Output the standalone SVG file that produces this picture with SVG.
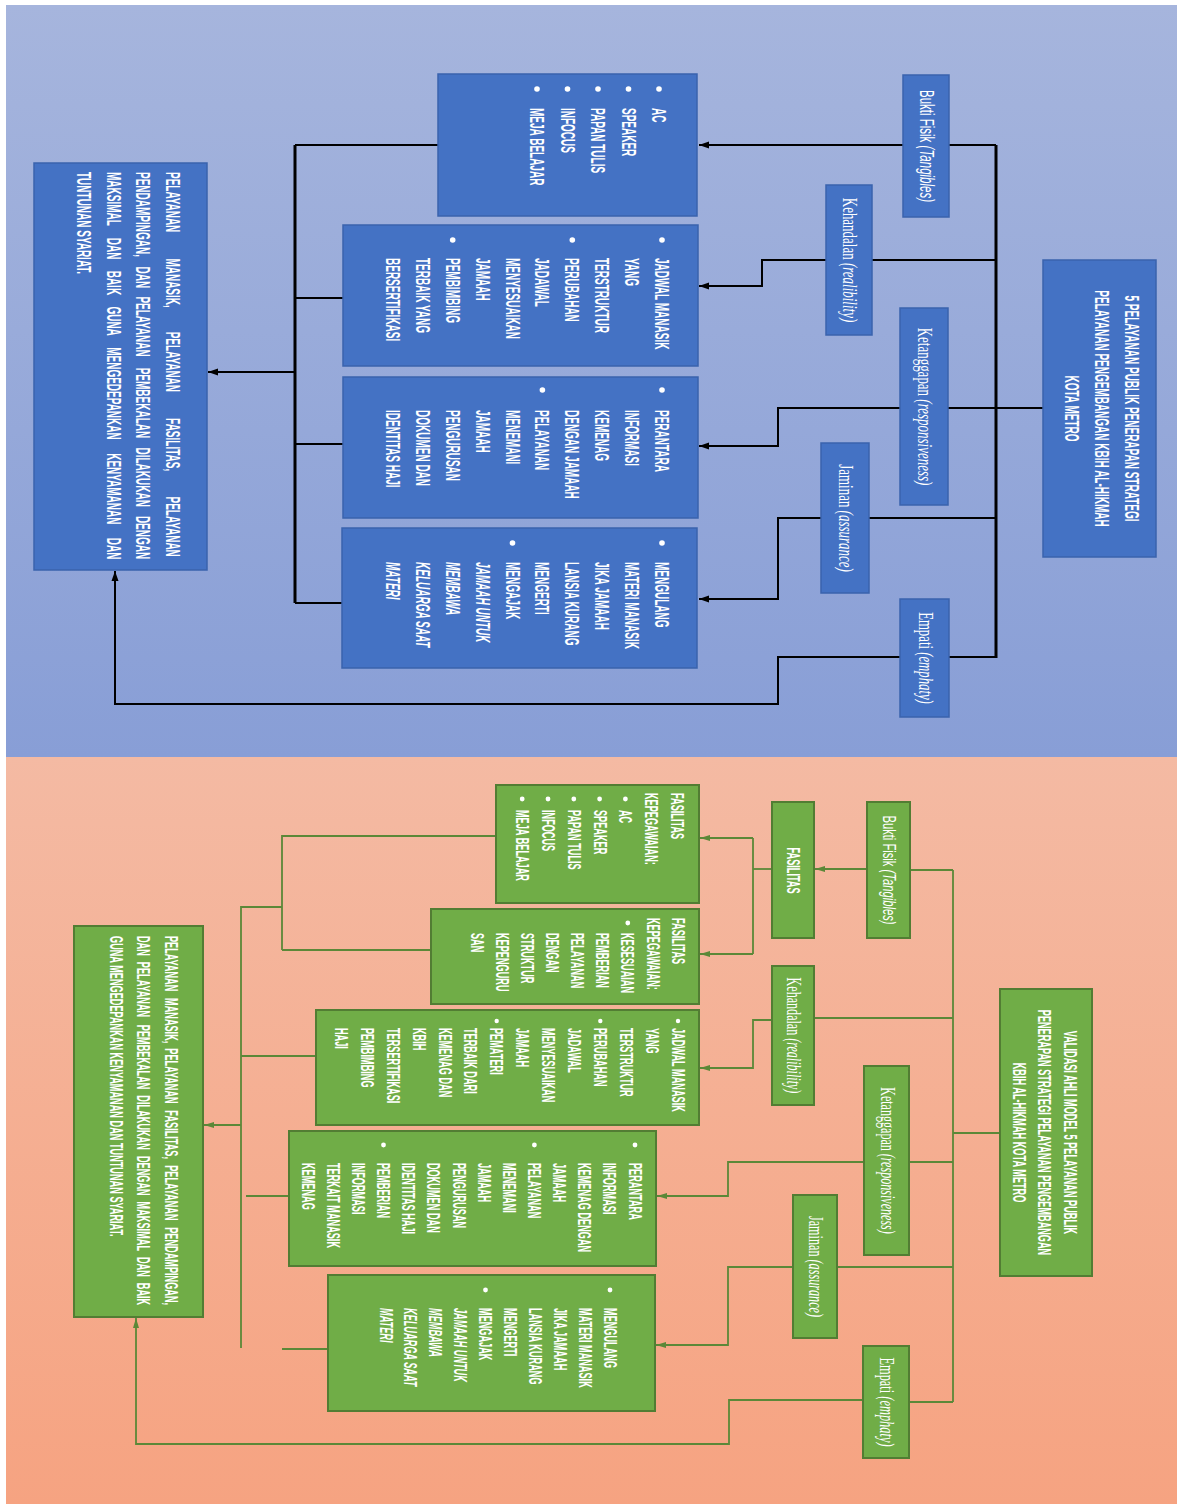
<svg xmlns="http://www.w3.org/2000/svg" width="1179" height="1504" viewBox="0 0 1179 1504">
<defs>
<linearGradient id="gBlue" x1="0" y1="0" x2="0" y2="1"><stop offset="0" stop-color="#a6b5dd"/><stop offset="1" stop-color="#889ed6"/></linearGradient>
<linearGradient id="gSal" x1="0" y1="0" x2="0" y2="1"><stop offset="0" stop-color="#f4baa3"/><stop offset="1" stop-color="#f6a381"/></linearGradient>
<marker id="ak" markerWidth="11" markerHeight="8" refX="10" refY="4" orient="auto" markerUnits="userSpaceOnUse"><path d="M0,0.5 L10,4 L0,7.5 z" fill="#000"/></marker>
<marker id="ag" markerWidth="11" markerHeight="8" refX="10" refY="4" orient="auto" markerUnits="userSpaceOnUse"><path d="M0,1 L10,4 L0,7 z" fill="#5b8838"/></marker>
<style>
.bb{fill:#4472c4;stroke:#3a63ad;stroke-width:1.5}
.gb{fill:#70ad47;stroke:#527d33;stroke-width:2}
.bt{font-family:"Liberation Sans",Arial,sans-serif;font-weight:bold;font-size:20px;fill:#fff}
.gt{font-family:"Liberation Sans",Arial,sans-serif;font-weight:bold;font-size:18px;fill:#fff}
.ss{font-family:"Liberation Sans",Arial,sans-serif;fill:#fff;text-anchor:middle}
.sf{font-family:"Liberation Serif","Times New Roman",serif;fill:#fff;text-anchor:middle}
.mid{text-anchor:middle}
.it{font-style:italic}
.dot{fill:#fff}
.kl{stroke:#000;stroke-width:2;fill:none}
.kt{stroke:#000;stroke-width:3;fill:none}
.gl{stroke:#5b8838;stroke-width:1.8;fill:none}
</style>
</defs>
<rect x="0" y="0" width="1179" height="1504" fill="#fff"/>
<rect x="6" y="5" width="1171" height="752" fill="url(#gBlue)"/>
<rect x="6" y="757" width="1171" height="747" fill="url(#gSal)"/>

<g id="connectors">
 <g id="conn-top">
  <path class="kt" d="M996,145 V658"/>
  <path class="kl" d="M1043,408 H948"/>
  <path class="kl" d="M996,145 H949"/>
  <path class="kl" d="M903,145 H699" marker-end="url(#ak)"/>
  <path class="kl" d="M996,260 H872"/>
  <path class="kl" d="M826,260 H762 V286 H699" marker-end="url(#ak)"/>
  <path class="kl" d="M900,408 H778 V446 H699" marker-end="url(#ak)"/>
  <path class="kl" d="M996,518 H869"/>
  <path class="kl" d="M821,518 H778 V599 H699" marker-end="url(#ak)"/>
  <path class="kl" d="M996,657 H949"/>
  <path class="kl" d="M900,657 H778 V704 H115 V571" marker-end="url(#ak)"/>
  <path class="kt" d="M295,145 V603"/>
  <path class="kl" d="M438,145 H295"/>
  <path class="kl" d="M343,298 H295"/>
  <path class="kl" d="M343,444 H295"/>
  <path class="kl" d="M343,603 H295"/>
  <path class="kl" d="M295,372 H208" marker-end="url(#ak)"/>
 </g>
 <g id="conn-bottom">
  <path class="gl" d="M953,870 V1402"/>
  <path class="gl" d="M1000,1133 H953"/>
  <path class="gl" d="M953,870 H910"/>
  <path class="gl" d="M867,869 H815" marker-end="url(#ag)"/>
  <path class="gl" d="M772,869 H753"/>
  <path class="gl" d="M753,838 V954"/>
  <path class="gl" d="M753,838 H700" marker-end="url(#ag)"/>
  <path class="gl" d="M753,954 H700" marker-end="url(#ag)"/>
  <path class="gl" d="M953,1018 H814"/>
  <path class="gl" d="M772,1020 H753 V1068 H700" marker-end="url(#ag)"/>
  <path class="gl" d="M953,1162 H909"/>
  <path class="gl" d="M864,1162 H728 V1196 H657" marker-end="url(#ag)"/>
  <path class="gl" d="M953,1267 H837"/>
  <path class="gl" d="M793,1267 H728 V1345 H656" marker-end="url(#ag)"/>
  <path class="gl" d="M953,1402 H910"/>
  <path class="gl" d="M863,1400 H729 V1444 H136 V1318" marker-end="url(#ag)"/>
  <path class="gl" d="M496,836 H282 V950 M431,950 H282"/>
  <path class="gl" d="M282,907 H241 V1348"/>
  <path class="gl" d="M316,1056 H241"/>
  <path class="gl" d="M289,1196 H246"/>
  <path class="gl" d="M328,1349 H282"/>
  <path class="gl" d="M241,1125 H204" marker-end="url(#ag)"/>
 </g>
</g>

<!-- TOP PANEL NODES -->
<g id="top-source">
 <rect class="bb" x="1043" y="260" width="113" height="297"/>
 <g class="bt mid" transform="translate(1125,408.5) rotate(90) scale(0.5,1)">
  <text y="0">5 PELAYANAN PUBLIK PENERAPAN STRATEGI</text>
  <text y="30">PELAYANAN PENGEMBANGAN KBIH AL-HIKMAH</text>
  <text y="60">KOTA METRO</text>
 </g>
</g>
<g id="top-bukti">
 <rect class="bb" x="903" y="75" width="46" height="142"/>
 <text class="ss" font-size="20" transform="translate(919.5,146) rotate(90) scale(0.575,1)">Bukti Fisik <tspan class="it">(Tangibles)</tspan></text>
</g>
<g id="top-kehandalan">
 <rect class="bb" x="826" y="185" width="46" height="150"/>
 <text class="sf" font-size="22" transform="translate(843,260) rotate(90) scale(0.59,1)">Kehandalan <tspan class="it">(realibility)</tspan></text>
</g>
<g id="top-ketanggapan">
 <rect class="bb" x="900" y="308" width="48" height="197"/>
 <text class="sf" font-size="22" transform="translate(918,406.5) rotate(90) scale(0.59,1)">Ketanggapan <tspan class="it">(responsiveness)</tspan></text>
</g>
<g id="top-jaminan">
 <rect class="bb" x="821" y="443" width="48" height="150"/>
 <text class="sf" font-size="22" transform="translate(839,518) rotate(90) scale(0.59,1)">Jaminan <tspan class="it">(assurance)</tspan></text>
</g>
<g id="top-empati">
 <rect class="bb" x="900" y="599" width="49" height="118"/>
 <text class="sf" font-size="22" transform="translate(918.5,658) rotate(90) scale(0.58,1)">Empati <tspan class="it">(emphaty)</tspan></text>
</g>

<g id="top-box-a">
 <rect class="bb" x="438" y="74" width="259" height="142"/>
 <circle class="dot" cx="659" cy="89" r="2.8"/><circle class="dot" cx="628.5" cy="89" r="2.8"/><circle class="dot" cx="598" cy="89" r="2.8"/><circle class="dot" cx="567.5" cy="89" r="2.8"/><circle class="dot" cx="537" cy="89" r="2.8"/>
 <g class="bt" transform="translate(652,108) rotate(90) scale(0.5,1)">
  <text y="0">AC</text><text y="30.5">SPEAKER</text><text y="61">PAPAN TULIS</text><text y="91.5">INFOCUS</text><text y="122">MEJA BELAJAR</text>
 </g>
</g>
<g id="top-box-b">
 <rect class="bb" x="343" y="225" width="355" height="141"/>
 <circle class="dot" cx="662" cy="240" r="2.8"/><circle class="dot" cx="572.3" cy="240" r="2.8"/><circle class="dot" cx="452.7" cy="240" r="2.8"/>
 <g class="bt" transform="translate(655,258) rotate(90) scale(0.5,1)">
  <text y="0">JADWAL MANASIK</text><text y="29.9">YANG</text><text y="59.8">TERSTRUKTUR</text><text y="89.7">PERUBAHAN</text><text y="119.6">JADAWAL</text><text y="149.5">MENYESUAIKAN</text><text y="179.4">JAMAAH</text><text y="209.3">PEMBIMBING</text><text y="239.2">TERBAIK YANG</text><text y="269.1">BERSERTIFIKASI</text>
 </g>
</g>
<g id="top-box-c">
 <rect class="bb" x="343" y="377" width="355" height="141"/>
 <circle class="dot" cx="662" cy="390" r="2.8"/><circle class="dot" cx="542.4" cy="390" r="2.8"/>
 <g class="bt" transform="translate(655,410) rotate(90) scale(0.5,1)">
  <text y="0">PERANTARA</text><text y="29.9">INFORMASI</text><text y="59.8">KEMENAG</text><text y="89.7">DENGAN JAMAAH</text><text y="119.6">PELAYANAN</text><text y="149.5">MENEMANI</text><text y="179.4">JAMAAH</text><text y="209.3">PENGURUSAN</text><text y="239.2">DOKUMEN DAN</text><text y="269.1">IDENTITAS HAJI</text>
 </g>
</g>
<g id="top-box-d">
 <rect class="bb" x="342" y="528" width="355" height="140"/>
 <circle class="dot" cx="662" cy="543" r="2.8"/><circle class="dot" cx="512.5" cy="543" r="2.8"/>
 <g class="bt" transform="translate(655,562) rotate(90) scale(0.5,1)">
  <text y="0">MENGULANG</text><text y="29.9">MATERI MANASIK</text><text y="59.8">JIKA JAMAAH</text><text y="89.7">LANSIA KURANG</text><text y="119.6">MENGERTI</text><text y="149.5">MENGAJAK</text><text class="it" y="179.4">JAMAAH UNTUK</text><text class="it" y="209.3">MEMBAWA</text><text class="it" y="239.2">KELUARGA SAAT</text><text class="it" y="269.1">MATERI</text>
 </g>
</g>
<g id="top-result">
 <rect class="bb" x="34" y="163" width="173" height="407"/>
 <g class="bt" transform="translate(166,172) rotate(90) scale(0.5,1)">
  <text x="0" y="0">PELAYANAN</text><text x="172.8" y="0">MANASIK,</text><text x="319.4" y="0">PELAYANAN</text><text x="492.2" y="0">FASILITAS,</text><text x="649" y="0">PELAYANAN</text>
  <text x="0" y="29.7">PENDAMPINGAN,</text><text x="189" y="29.7">DAN</text><text x="248.8" y="29.7">PELAYANAN</text><text x="391.4" y="29.7">PEMBEKALAN</text><text x="551" y="29.7">DILAKUKAN</text><text x="687.8" y="29.7">DENGAN</text>
  <text x="0" y="59.4">MAKSIMAL</text><text x="131.6" y="59.4">DAN</text><text x="197.4" y="59.4">BAIK</text><text x="268.8" y="59.4">GUNA</text><text x="350.4" y="59.4">MENGEDEPANKAN</text><text x="562.4" y="59.4">KENYAMANAN</text><text x="731.4" y="59.4">DAN</text>
  <text x="0" y="89">TUNTUNAN SYARIAT.</text>
 </g>
</g>

<!-- BOTTOM PANEL NODES -->
<g id="bot-source">
 <rect class="gb" x="1000" y="989" width="92" height="287"/>
 <g class="gt mid" transform="translate(1063.5,1132.5) rotate(90) scale(0.51,1)">
  <text y="0">VALIDASI AHLI MODEL 5 PELAYANAN PUBLIK</text>
  <text y="25.4">PENERAPAN STRATEGI PELAYANAN PENGEMBANGAN</text>
  <text y="50.8">KBIH AL-HIKMAH KOTA METRO</text>
 </g>
</g>
<g id="bot-bukti">
 <rect class="gb" x="867" y="802" width="43" height="136"/>
 <text class="ss" font-size="19" transform="translate(882.5,870) rotate(90) scale(0.59,1)">Bukti Fisik <tspan class="it">(Tangibles)</tspan></text>
</g>
<g id="bot-fasilitas">
 <rect class="gb" x="772" y="802" width="42" height="136"/>
 <text class="gt mid" transform="translate(787,870.5) rotate(90) scale(0.51,1)">FASILITAS</text>
</g>
<g id="bot-kehandalan">
 <rect class="gb" x="772" y="966" width="42" height="139"/>
 <text class="sf" font-size="21" transform="translate(787,1035.5) rotate(90) scale(0.575,1)">Kehandalan <tspan class="it">(realibility)</tspan></text>
</g>
<g id="bot-ketanggapan">
 <rect class="gb" x="864" y="1066" width="45" height="189"/>
 <text class="sf" font-size="21" transform="translate(880.5,1160.5) rotate(90) scale(0.575,1)">Ketanggapan <tspan class="it">(responsiveness)</tspan></text>
</g>
<g id="bot-jaminan">
 <rect class="gb" x="793" y="1195" width="44" height="143"/>
 <text class="sf" font-size="21" transform="translate(809,1266.5) rotate(90) scale(0.58,1)">Jaminan <tspan class="it">(assurance)</tspan></text>
</g>
<g id="bot-empati">
 <rect class="gb" x="863" y="1346" width="46" height="112"/>
 <text class="sf" font-size="21" transform="translate(880,1402) rotate(90) scale(0.59,1)">Empati <tspan class="it">(emphaty)</tspan></text>
</g>

<g id="bot-box-1">
 <rect class="gb" x="496" y="785" width="203" height="118"/>
 <circle class="dot" cx="625.4" cy="799" r="2.4"/><circle class="dot" cx="599.6" cy="799" r="2.4"/><circle class="dot" cx="573.8" cy="799" r="2.4"/><circle class="dot" cx="548" cy="799" r="2.4"/><circle class="dot" cx="522.2" cy="799" r="2.4"/>
 <g class="gt" transform="translate(671,793) rotate(90) scale(0.51,1)">
  <text x="0" y="0">FASILITAS</text><text x="0" y="25.8">KEPEGAWAIAN:</text><text x="33.3" y="51.6">AC</text><text x="33.3" y="77.4">SPEAKER</text><text x="33.3" y="103.2">PAPAN TULIS</text><text x="33.3" y="129">INFOCUS</text><text x="33.3" y="154.8">MEJA BELAJAR</text>
 </g>
</g>
<g id="bot-box-2">
 <rect class="gb" x="431" y="909" width="268" height="95"/>
 <circle class="dot" cx="627.8" cy="923" r="2.4"/>
 <g class="gt" transform="translate(671.6,918) rotate(90) scale(0.51,1)">
  <text x="0" y="0">FASILITAS</text><text x="0" y="25.1">KEPEGAWAIAN:</text><text x="29.4" y="50.2">KESESUAIAN</text><text x="29.4" y="75.3">PEMBERIAN</text><text x="29.4" y="100.4">PELAYANAN</text><text x="29.4" y="125.5">DENGAN</text><text x="29.4" y="150.6">STRUKTUR</text><text x="29.4" y="175.7">KEPENGURU</text><text x="29.4" y="200.8">SAN</text>
 </g>
</g>
<g id="bot-box-3">
 <rect class="gb" x="316" y="1010" width="383" height="115"/>
 <circle class="dot" cx="678" cy="1021" r="2.2"/><circle class="dot" cx="600.3" cy="1021" r="2.2"/><circle class="dot" cx="496.7" cy="1021" r="2.2"/>
 <g class="gt" transform="translate(671.6,1028) rotate(90) scale(0.51,1)">
  <text y="0">JADWAL MANASIK</text><text y="25.9">YANG</text><text y="51.8">TERSTRUKTUR</text><text y="77.7">PERUBAHAN</text><text y="103.6">JADAWAL</text><text y="129.5">MENYESUAIKAN</text><text y="155.4">JAMAAH</text><text y="181.3">PEMATERI</text><text y="207.2">TERBAIK DARI</text><text y="233.1">KEMENAG DAN</text><text y="259">KBIH</text><text y="284.9">TERSERTIFIKASI</text><text y="310.8">PEMBIMBING</text><text y="336.7">HAJI</text>
 </g>
</g>
<g id="bot-box-4">
 <rect class="gb" x="289" y="1131" width="367" height="135"/>
 <circle class="dot" cx="635" cy="1145" r="2.4"/><circle class="dot" cx="534.4" cy="1145" r="2.4"/><circle class="dot" cx="383.5" cy="1145" r="2.4"/>
 <g class="gt" transform="translate(628.6,1163) rotate(90) scale(0.51,1)">
  <text y="0">PERANTARA</text><text y="25.15">INFORMASI</text><text y="50.3">KEMENAG DENGAN</text><text y="75.45">JAMAAH</text><text y="100.6">PELAYANAN</text><text y="125.75">MENEMANI</text><text y="150.9">JAMAAH</text><text y="176.05">PENGURUSAN</text><text y="201.2">DOKUMEN DAN</text><text y="226.35">IDENTITAS HAJI</text><text y="251.5">PEMBERIAN</text><text y="276.65">INFORMASI</text><text y="301.8">TERKAIT MANASIK</text><text y="326.95">KEMENAG</text>
 </g>
</g>
<g id="bot-box-5">
 <rect class="gb" x="328" y="1275" width="327" height="136"/>
 <circle class="dot" cx="610" cy="1290" r="2.4"/><circle class="dot" cx="485.5" cy="1290" r="2.4"/>
 <g class="gt" transform="translate(603.6,1308) rotate(90) scale(0.51,1)">
  <text y="0">MENGULANG</text><text y="24.9">MATERI MANASIK</text><text y="49.8">JIKA JAMAAH</text><text y="74.7">LANSIA KURANG</text><text y="99.6">MENGERTI</text><text y="124.5">MENGAJAK</text><text class="it" y="149.4">JAMAAH UNTUK</text><text class="it" y="174.3">MEMBAWA</text><text class="it" y="199.2">KELUARGA SAAT</text><text class="it" y="224.1">MATERI</text>
 </g>
</g>
<g id="bot-result">
 <rect class="gb" x="74" y="926" width="129" height="391"/>
 <g class="gt" transform="translate(164.6,936) rotate(90) scale(0.51,1)">
  <text x="0" y="0">PELAYANAN</text><text x="121.6" y="0">MANASIK,</text><text x="220.2" y="0">PELAYANAN</text><text x="341.8" y="0">FASILITAS,</text><text x="449.4" y="0">PELAYANAN</text><text x="571" y="0">PENDAMPINGAN,</text>
  <text x="0" y="27.5">DAN</text><text x="50.6" y="27.5">PELAYANAN</text><text x="174.1" y="27.5">PEMBEKALAN</text><text x="312.5" y="27.5">DILAKUKAN</text><text x="431.2" y="27.5">DENGAN</text><text x="520.8" y="27.5">MAKSIMAL</text><text x="629.4" y="27.5">DAN</text><text x="680" y="27.5">BAIK</text>
  <text x="0" y="55">GUNA MENGEDEPANKAN KENYAMANAN DAN TUNTUNAN SYARIAT.</text>
 </g>
</g>
</svg>
